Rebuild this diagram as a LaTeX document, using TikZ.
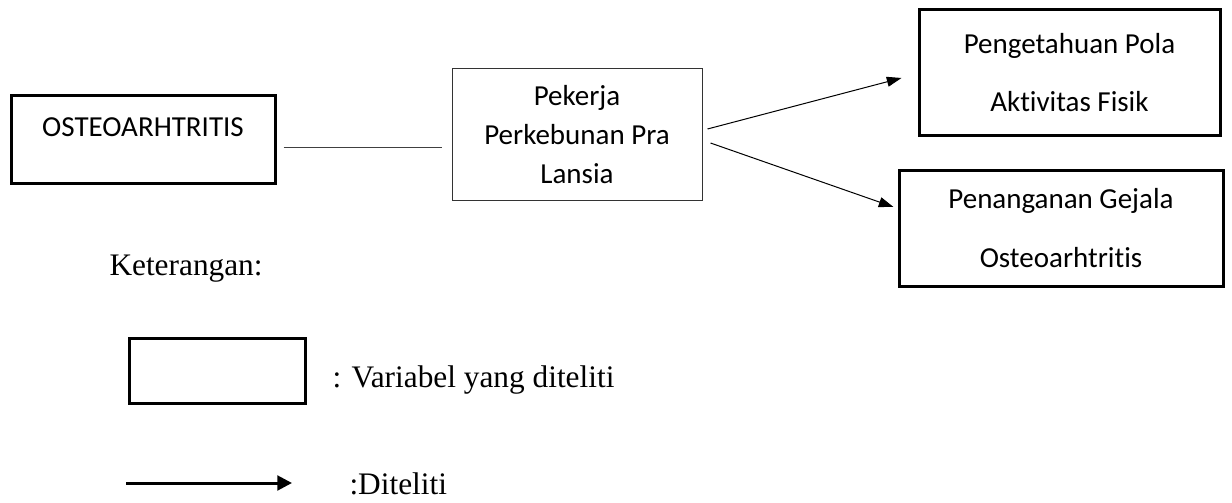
\documentclass[tikz,border=0pt]{standalone}
\usepackage{fontspec}
\setmainfont{Carlito}[Ligatures={TeX,NoCommon}]
\newfontfamily\tnr{Liberation Serif}
\usetikzlibrary{arrows.meta,calc}

\tikzset{every picture/.style={line width=0.75pt}}
\tikzset{
  varbox/.style={draw, line width=2.25pt, inner sep=0pt, align=center,
    font=\fontsize{21.75}{44}\selectfont},
  thinbox/.style={draw=black!80, line width=0.75pt, inner sep=0pt, align=center,
    font=\fontsize{21.75}{29}\selectfont},
  boxtext/.style={inner sep=0.75pt, anchor=base, font=\fontsize{21.75}{26}\selectfont},
  legtext/.style={inner sep=0pt, anchor=base west, font=\tnr\fontsize{23.5}{28}\selectfont},
  link/.style={draw=black!75, line width=0.75pt},
  flow/.style={draw=black, line width=0.75pt, -{Triangle[length=11pt,width=7.5pt]}}
}

\begin{document}
\begin{tikzpicture}[x=0.75pt,y=0.75pt,yscale=-1,xscale=1]
\useasboundingbox (0,0) rectangle (1232,503);
%Shape: Rectangle [id:osteo]
\node [varbox, minimum width=198pt, minimum height=65.25pt] (osteo) at (143,139.5) {};
% Text Node
\node [boxtext] (osteolbl) at (143,137) {OSTEOARHTRITIS};
%Shape: Rectangle [id:pekerja]
\node [thinbox, minimum width=187.5pt, minimum height=98.25pt] (pekerja) at (577,134.5) {Pekerja\\Perkebunan Pra\\Lansia};
%Shape: Rectangle [id:pola]
\node [varbox, minimum width=225.75pt, minimum height=93.75pt] (pola) at (1069.5,72.5) {Pengetahuan Pola\\Aktivitas Fisik};
%Shape: Rectangle [id:gejala]
\node [varbox, minimum width=243pt, minimum height=87pt] (gejala) at (1061,228) {Penanganan Gejala\\Osteoarhtritis};
%Straight Lines
\draw [link] ($(osteo.east)+(7,7.5)$) -- ($(pekerja.west)+(-10,12.5)$);
\draw [flow] ($(pekerja.east)+(5,-5.5)$) -- ($(pola.west)+(-16,5.5)$);
\draw [flow] ($(pekerja.east)+(8,8.5)$) -- ($(gejala.west)+(-4,-21)$);
% Text Node
\node [legtext] (ket) at (109,275) {Keterangan:};
%Shape: Rectangle [id:legbox]
\node [draw, line width=2.25pt, minimum width=132pt, minimum height=48.75pt] (legbox) at (217,370.5) {};
% Text Node
\node [legtext] (legvar) at (332,387) {: Variabel yang diteliti};
%Legend arrow
\coordinate (arrstart) at (126,483);
\coordinate (arrend) at (292,483);
\draw [line width=2.25pt, -{Triangle[length=11pt,width=11pt]}] (arrstart) -- (arrend);
% Text Node
\node [legtext] (legflow) at (349,494) {:Diteliti};
\end{tikzpicture}
\end{document}
